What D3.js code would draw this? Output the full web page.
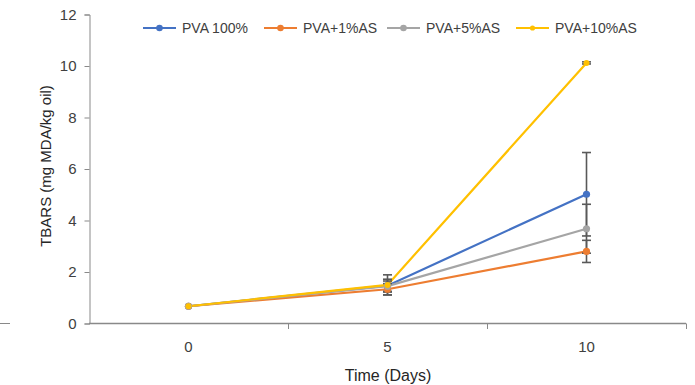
<!DOCTYPE html>
<html>
<head>
<meta charset="utf-8">
<script src="https://cdn.jsdelivr.net/npm/d3@7"></script>
<style>
  body { margin: 0; background: #fff; }
  text { font-family: "Liberation Sans", Arial, sans-serif; fill: #595959; }
</style>
</head>
<body>
<div id="chart"></div>
<script>
// data
var days = ['0', '5', '10'];
var seriesNames = ['PVA 100%', 'PVA+1%AS', 'PVA+5%AS', 'PVA+10%AS'];
var seriesColors = ['#4472C4', '#ED7D31', '#A5A5A5', '#FFC000'];
var pva100 = [0.67, 1.47, 5.02];
var pva1 = [0.67, 1.33, 2.80];
var pva5 = [0.67, 1.45, 3.68];
var pva10 = [0.67, 1.50, 10.12];
var err100 = [0, 0.25, 1.62];
var err1 = [0, 0.22, 0.43];
var err5 = [0, 0.20, 0.95];
var err10 = [0, 0.39, 0.04];
var yTicks = [0, 2, 4, 6, 8, 10, 12];

var values = [pva100, pva1, pva5, pva10];
var errors = [err100, err1, err5, err10];

var W = 695, H = 385;
var svg = d3.select('#chart').append('svg').attr('width', W).attr('height', H);

var x = d3.scaleBand().domain(days).range([89, 686]);
var y = d3.scaleLinear().domain([0, 12]).range([323.5, 14.5]);

// stray mark at the left edge
svg.append('line').attr('x1', 0).attr('x2', 10).attr('y1', 323.5).attr('y2', 323.5)
  .attr('stroke', '#898989').attr('stroke-width', 1);

// y axis
var yAxis = svg.append('g').attr('transform', 'translate(89.5,0)')
  .call(d3.axisLeft(y).tickValues(yTicks).tickSize(5).tickPadding(8));
yAxis.select('.domain').attr('stroke', '#898989');
yAxis.selectAll('.tick line').attr('stroke', '#898989');
yAxis.selectAll('.tick text').style('font-size', '15px').style('fill', '#404040');

// x axis: line plus ticks at band edges
var xg = svg.append('g');
xg.append('line').attr('x1', 89).attr('x2', 686).attr('y1', 323.5).attr('y2', 323.5)
  .attr('stroke', '#898989').attr('stroke-width', 1.3);
var edges = days.map(function (d) { return x(d); }).concat([x.range()[1]]);
xg.selectAll('.xt').data(edges.slice(1)).enter().append('line')
  .attr('x1', function (d) { return Math.round(d) + 0.5; })
  .attr('x2', function (d) { return Math.round(d) + 0.5; })
  .attr('y1', 323.5).attr('y2', 329)
  .attr('stroke', '#898989');
xg.selectAll('.xl').data(days).enter().append('text')
  .attr('x', function (d) { return x(d) + x.bandwidth() / 2; })
  .attr('y', 352)
  .attr('text-anchor', 'middle')
  .style('font-size', '15px')
  .style('fill', '#404040')
  .text(function (d) { return d; });

// axis titles
svg.append('text').attr('x', 388).attr('y', 381).attr('text-anchor', 'middle')
  .style('font-size', '16px').style('fill', '#262626').text('Time (Days)');
svg.append('text')
  .attr('transform', 'translate(51,166) rotate(-90)')
  .attr('text-anchor', 'middle')
  .style('font-size', '15px')
  .style('fill', '#262626')
  .text('TBARS (mg MDA/kg oil)');

var cx = function (i) { return x(days[i]) + x.bandwidth() / 2; };
var line = d3.line().x(function (d, i) { return cx(i); }).y(function (d) { return y(d); });

// lines
values.forEach(function (vals, s) {
  svg.append('path').datum(vals)
    .attr('d', line)
    .attr('fill', 'none')
    .attr('stroke', seriesColors[s])
    .attr('stroke-width', 2.2);
});

// error bars
var eb = svg.append('g').attr('stroke', '#595959').attr('stroke-width', 1.6);
values.forEach(function (vals, s) {
  vals.forEach(function (v, i) {
    var e = errors[s][i];
    if (!e) return;
    var px = cx(i);
    eb.append('line').attr('x1', px).attr('x2', px).attr('y1', y(v - e)).attr('y2', y(v + e));
    [v - e, v + e].forEach(function (t) {
      eb.append('line').attr('x1', px - 4.5).attr('x2', px + 4.5).attr('y1', y(t)).attr('y2', y(t));
    });
  });
});

// markers
values.forEach(function (vals, s) {
  svg.selectAll('.m' + s).data(vals).enter().append('circle')
    .attr('cx', function (d, i) { return cx(i); })
    .attr('cy', function (d) { return y(d); })
    .attr('r', s === 3 ? 3 : 3.6)
    .attr('fill', seriesColors[s]);
});

// legend
var legX = [143, 264, 387, 516];
var legend = svg.append('g');
seriesNames.forEach(function (name, s) {
  var g = legend.append('g').attr('transform', 'translate(' + legX[s] + ',28)');
  g.append('line').attr('x1', 0).attr('x2', 33).attr('stroke', seriesColors[s]).attr('stroke-width', 2.2);
  g.append('circle').attr('cx', 16.5).attr('r', s === 3 ? 2.6 : 3.3).attr('fill', seriesColors[s]);
  g.append('text').attr('x', 39).attr('y', 5).style('font-size', '14px').style('fill', '#404040').text(name);
});
</script>
</body>
</html>
